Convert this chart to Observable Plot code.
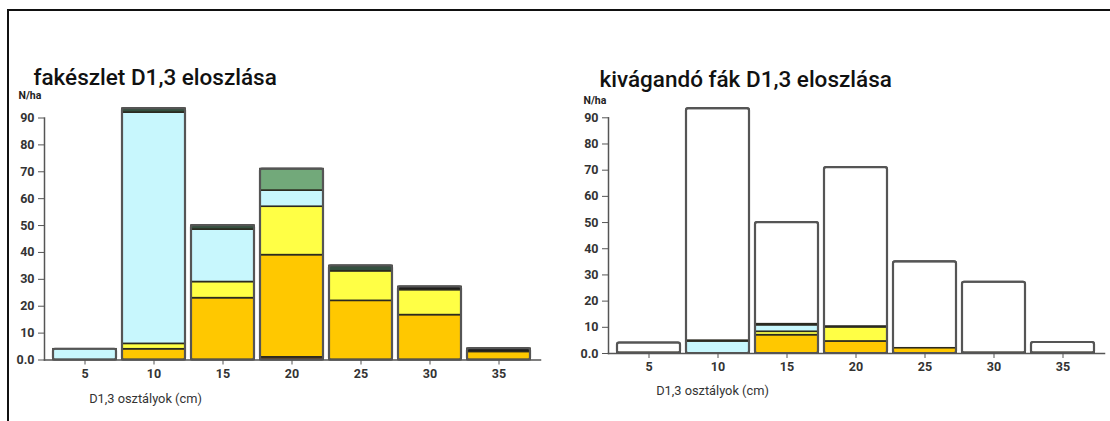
<!DOCTYPE html>
<html>
<head>
<meta charset="utf-8">
<script src="https://cdn.jsdelivr.net/npm/d3@7"></script>
<script src="https://cdn.jsdelivr.net/npm/@observablehq/plot@0.6"></script>
<style>
  html, body { margin: 0; padding: 0; background: #fff; }
  #wrap { position: relative; width: 1110px; height: 421px; overflow: hidden; background: #fff; }
  #border { position: absolute; left: 7px; top: 9px; width: 1110px; height: 420px;
            border-top: 2px solid #111; border-left: 2px solid #111; }
  .chart { position: absolute; top: 0; }
  .chart svg { overflow: visible; }
</style>
</head>
<body>
<div id="wrap">
  <div id="border"></div>
  <div id="left" class="chart" style="left:0px"></div>
  <div id="right" class="chart" style="left:560px"></div>
</div>
<script>
// ---- data ----
const classes = [5, 10, 15, 20, 25, 30, 35];
const seriesNames = ["barna", "narancs", "sárga", "világoskék", "zöld", "sötétzöld", "fekete"];
const seriesColors = ["#7b3f12", "#ffc800", "#ffff45", "#c8f7fd", "#72a97a", "#34503f", "#1c1c1c"];
const yTicks = [0, 10, 20, 30, 40, 50, 60, 70, 80, 90];
const titleLeft = "fakészlet D1,3 eloszlása";
const titleRight = "kivágandó fák D1,3 eloszlása";
const yLabel = "N/ha";
const xLabel = "D1,3 osztályok (cm)";

// fakészlet (stock), N/ha per class
const stockBarna      = [0, 0,   0,    1,  0,  0,    0];
const stockNarancs    = [0, 4,   23,   38, 22, 16.7, 3];
const stockSarga      = [0, 2,   6,    18, 11, 9.3,  0];
const stockVilagoskek = [4, 86,  19.5, 6,  0,  0,    0];
const stockZold       = [0, 0,   0,    8,  0,  0,    0];
const stockSotetzold  = [0, 1.5, 1.5,  0,  2,  0,    0];
const stockFekete     = [0, 0,   0,    0,  0,  1.2,  1.2];

// kivágandó fák (to be cut), N/ha per class
const cutBarna      = [0,   0,   0,   0,   0,   0,   0];
const cutNarancs    = [0,   0,   7,   4.6, 2,   0,   0];
const cutSarga      = [0,   0,   1.3, 5.4, 0,   0,   0];
const cutVilagoskek = [0,   4.6, 2.5, 0,   0,   0,   0];
const cutZold       = [0,   0,   0,   0,   0,   0,   0];
const cutSotetzold  = [0,   0.3, 0.4, 0,   0,   0,   0];
const cutFekete     = [0.3, 0,   0,   0.3, 0,   0.3, 0.3];

// ---- build tables ----
function tidy(arrays) {
  const rows = [];
  arrays.forEach((arr, si) => {
    arr.forEach((v, ci) => {
      if (v > 0) rows.push({cls: classes[ci], series: seriesNames[si], value: v});
    });
  });
  return rows;
}
const stockArrays = [stockBarna, stockNarancs, stockSarga, stockVilagoskek, stockZold, stockSotetzold, stockFekete];
const cutArrays = [cutBarna, cutNarancs, cutSarga, cutVilagoskek, cutZold, cutSotetzold, cutFekete];
const stockRows = tidy(stockArrays);
const cutRows = tidy(cutArrays);
const totals = classes.map((c, i) => ({cls: c, value: d3.sum(stockArrays, a => a[i])}));

const fmtY = d => d === 0 ? "0.0" : String(d);

function chart({rows, outlineFill, width, marginLeft, marginRight, marginTop, marginBottom,
                title, titleDx, titleDy, nhaDx, nhaDy, xlabDx, xlabDy}) {
  const marks = [];
  if (outlineFill) {
    marks.push(Plot.barY(totals, {x: "cls", y: "value", fill: outlineFill, stroke: "#5a5a5a", strokeWidth: 2, rx: 2}));
  }
  marks.push(Plot.barY(rows, Plot.stackY({
    x: "cls", y: "value", fill: "series", order: seriesNames,
    stroke: "#2b2a20", strokeWidth: 1.6
  })));
  marks.push(Plot.barY(totals, {x: "cls", y: "value", fill: "none", stroke: "#555", strokeWidth: 2.2, rx: 2}));
  marks.push(Plot.frame({anchor: "bottom", stroke: "#555", strokeWidth: 1.5}));
  marks.push(Plot.frame({anchor: "left", stroke: "#555", strokeWidth: 1.5}));
  marks.push(Plot.axisY({ticks: yTicks, tickFormat: fmtY, tickSize: 6, tickPadding: 4, label: null,
                         stroke: "#555", fill: "#333", fontWeight: "bold", fontSize: 12.5}));
  marks.push(Plot.axisX({tickSize: 5, tickPadding: 4, label: null,
                         stroke: "#555", fill: "#333", fontWeight: "bold", fontSize: 12.5}));
  marks.push(Plot.text([title], {frameAnchor: "top-left", text: d => d, dx: titleDx, dy: titleDy,
                         textAnchor: "start", lineAnchor: "bottom", fontSize: 22.5, fontWeight: 500, fill: "#111"}));
  marks.push(Plot.text([yLabel], {frameAnchor: "top-left", text: d => d, dx: nhaDx, dy: nhaDy,
                         textAnchor: "start", lineAnchor: "bottom", fontSize: 10.5, fontWeight: "bold", fill: "#222",
                         letterSpacing: "-0.6px"}));
  marks.push(Plot.text([xLabel], {frameAnchor: "bottom-left", text: d => d, dx: xlabDx, dy: xlabDy,
                         textAnchor: "middle", lineAnchor: "bottom", fontSize: 12.8, fill: "#333",
                         letterSpacing: "-0.3px"}));
  return Plot.plot({
    width, height: 421,
    marginLeft, marginRight, marginTop, marginBottom,
    style: {fontFamily: "Roboto, 'Noto Sans', sans-serif", background: "transparent", overflow: "visible"},
    x: {type: "band", domain: classes, padding: 0.086, label: null},
    y: {domain: [0, 90], label: null},
    color: {domain: seriesNames, range: seriesColors},
    marks
  });
}

document.getElementById("left").appendChild(chart({
  rows: stockRows, outlineFill: null,
  width: 555, marginLeft: 44, marginRight: 15, marginTop: 117.5, marginBottom: 61.5,
  title: titleLeft, titleDx: -11, titleDy: -33.5,
  nhaDx: -26, nhaDy: -19.5,
  xlabDx: 101, xlabDy: 42.5
}));

document.getElementById("right").appendChild(chart({
  rows: cutRows, outlineFill: "white",
  width: 550, marginLeft: 48, marginRight: 6, marginTop: 117.3, marginBottom: 68,
  title: titleRight, titleDx: -9, titleDy: -31,
  nhaDx: -25, nhaDy: -14.3,
  xlabDx: 104, xlabDy: 41
}));
</script>
</body>
</html>
